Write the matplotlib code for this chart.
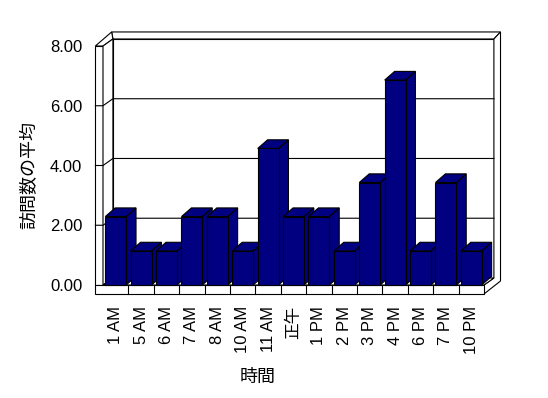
import matplotlib
matplotlib.use("Agg")
import matplotlib.pyplot as plt
from matplotlib.patches import Polygon

plt.rcParams['font.family'] = ['Liberation Sans', 'Noto Sans CJK JP', 'DejaVu Sans']

hours = ["1 AM", "5 AM", "6 AM", "7 AM", "8 AM", "10 AM", "11 AM", "正午",
         "1 PM", "2 PM", "3 PM", "4 PM", "6 PM", "7 PM", "10 PM"]
visits = [2.29, 1.14, 1.14, 2.29, 2.29, 1.14, 4.57, 2.29,
          2.29, 1.14, 3.43, 6.86, 1.14, 3.43, 1.14]
y_ticks = [0, 2, 4, 6, 8]

navy = "#000080"
lw = 0.8

fig = plt.figure(figsize=(5.48, 3.98), dpi=100)
fig.patch.set_facecolor("white")
ax = fig.add_axes([103 / 548, 1 - 285 / 398, 381 / 548, 239 / 398])
ax.set_xlim(-0.5, len(hours) - 0.5)
ax.set_ylim(0, 8)
ax.patch.set_visible(False)
for s in ax.spines.values():
    s.set_visible(False)

n = len(hours)
x0, x1 = -0.5, n - 0.5
DX, DY = 0.39, 0.235      # depth of the back wall
wall = 0.3                # left wall / floor thickness
top_out = 8.47
right_out = x1 + DX + 0.26


def poly(pts, fc="white", z=1):
    ax.add_patch(Polygon(pts, closed=True, fc=fc, ec="black", lw=lw,
                         clip_on=False, zorder=z, joinstyle="miter"))


# back wall and its slab edges
poly([(x0 + DX, DY), (x1 + DX, DY), (x1 + DX, 8 + DY), (x0 + DX, 8 + DY)])
poly([(x0 + DX, 8 + DY), (x1 + DX, 8 + DY), (right_out, top_out), (-0.16, top_out)])
poly([(x1 + DX, 8 + DY), (right_out, top_out), (right_out, 0.134),
      (x1, -wall), (x1, 0), (x1 + DX, DY)])
# left wall
poly([(x0 - wall, 0), (x0, 0), (x0, 8), (x0 - wall, 8)])
poly([(x0 - wall, 8), (x0, 8), (x0 + DX, 8 + DY), (-0.16, top_out)])
poly([(x0, 0), (x0 + DX, DY), (x0 + DX, 8 + DY), (x0, 8)])
# floor
poly([(x0, 0), (x1, 0), (x1 + DX, DY), (x0 + DX, DY)])
poly([(x0 - wall, -wall), (x1, -wall), (x1, 0), (x0 - wall, 0)])
for i in range(n - 1):
    ax.plot([i + 0.5, i + 0.5], [-wall, 0], color="black", lw=lw,
            clip_on=False, zorder=2)

# gridlines on back wall and left wall
for v in y_ticks[1:-1]:
    ax.plot([x0 - wall, x0, x0 + DX, x1 + DX], [v, v, v + DY, v + DY],
            color="black", lw=lw, clip_on=False, zorder=2)

# 3d bars
w = 0.82
bdx, bdy = 0.39, 0.29
for i, v in enumerate(visits):
    l, r = i - w / 2, i + w / 2
    poly([(r, 0), (r + bdx, bdy), (r + bdx, v + bdy), (r, v)], fc=navy, z=3)
    poly([(l, v), (r, v), (r + bdx, v + bdy), (l + bdx, v + bdy)], fc=navy, z=3)
    poly([(l, 0), (r, 0), (r, v), (l, v)], fc=navy, z=3)

ax.set_yticks(y_ticks)
ax.set_yticklabels([f"{t:.2f}" for t in y_ticks])
ax.set_xticks(range(n))
ax.set_xticklabels(hours, rotation=90)
ax.tick_params(axis="both", length=0, labelsize=12, colors="black")
ax.tick_params(axis="y", pad=15)
ax.tick_params(axis="x", pad=15)

fig.text(30 / 548, 1 - 175 / 398, "訪問数の平均", rotation=90,
         ha="center", va="center", fontsize=13)
fig.text(258 / 548, 1 - 377 / 398, "時間", ha="center", va="center", fontsize=13)

fig.savefig("out.png", dpi=100)
